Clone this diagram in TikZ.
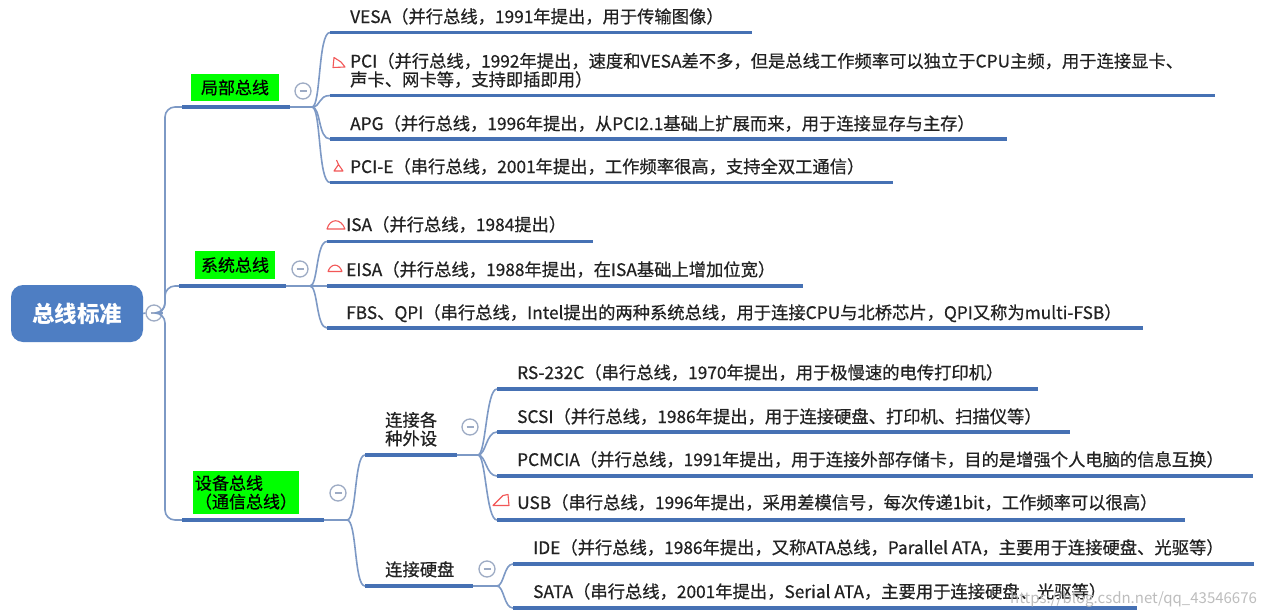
\documentclass[tikz,border=0pt]{standalone}
\usepackage{fontspec}
\setmainfont{Noto Sans CJK SC}
\newfontfamily\medfont{Noto Sans CJK SC}[FakeBold=0.6]
\usetikzlibrary{calc}
\definecolor{ul}{HTML}{4671B4}
\definecolor{cn}{HTML}{7D99C5}
\definecolor{tx}{HTML}{222222}
\definecolor{rootc}{HTML}{4E7EC3}
\definecolor{ring}{HTML}{9DABC4}
\definecolor{mark}{HTML}{F25757}
\definecolor{wm}{HTML}{BDBDBD}
\definecolor{lime}{HTML}{00FF00}
\tikzset{
  leaf/.style={anchor=base west, inner sep=0pt, font=\medfont\fontsize{17.3}{18.5}\selectfont, text=tx, align=left},
  greenbox/.style={fill=lime, inner sep=2pt, font=\medfont\fontsize{17}{18.5}\selectfont, text=black, align=left},
  conn/.style={draw=cn, line width=1.6pt},
  under/.style={draw=ul, line width=3.6pt},
  ringnode/.style={circle, draw=ring, line width=1.3pt, fill=white, minimum size=16pt, inner sep=0pt,
    path picture={\draw[ring, line width=1.2pt] ($(path picture bounding box.center)+(-3.5,0)$) -- ++(7,0);}},
  redmark/.style={draw=mark, line width=1.1pt, line join=round}
}
\begin{document}
\begin{tikzpicture}[x=1pt,y=-1pt]
\useasboundingbox[fill=white] (0,0) rectangle (1262,616);

% ---------- root ----------
\node[fill=rootc, rounded corners=12pt, minimum width=132pt, minimum height=57pt, text=white,
      font=\fontsize{22.5}{24}\selectfont\bfseries] (root) at (77,313.5) {总线标准};
\node[ringnode] (rc) at (154,313) {};
\coordinate (tr) at (165,313);

% ---------- branch coordinates ----------
\coordinate (b1s) at (182,107); \coordinate (b1e) at (290,107); \coordinate (f1) at (312,107);
\coordinate (b2s) at (179,286); \coordinate (b2e) at (286,286); \coordinate (f2) at (310,286);
\coordinate (b3s) at (182,520); \coordinate (b3e) at (324,520); \coordinate (f3) at (347,520);

\draw[conn] (root.east) -- (rc.west);
\draw[conn, rounded corners=10pt] (rc.east) -- (tr) |- (b1s);
\draw[conn, rounded corners=10pt] (rc.east) -- (tr) |- (b2s);
\draw[conn, rounded corners=10pt] (rc.east) -- (tr) |- (b3s);

\draw[under] (b1s) -- (b1e); \draw[conn] (b1e) -- (f1);
\draw[under] (b2s) -- (b2e); \draw[conn] (b2e) -- (f2);
\draw[under] (b3s) -- (b3e); \draw[conn] (b3e) -- (f3);

\node[greenbox, minimum width=88pt, minimum height=27pt] (g1) at (235,87.5) {局部总线};
\node[greenbox, minimum width=80pt, minimum height=28pt] (g2) at (235,265) {系统总线};
\node[greenbox, minimum width=106pt, minimum height=43pt] (g3) at (246,492.5) {设备总线\\（通信总线）};

\node[ringnode] (c1) at (303,91) {};
\node[ringnode] (c2) at (300,269) {};
\node[ringnode] (c3) at (338,493) {};

% ---------- local bus children ----------
\coordinate (vesaL) at (330,32.5);  \coordinate (vesaR) at (752,32.5);
\coordinate (pciL) at (330,95.5);   \coordinate (pciR) at (1215,95.5);
\coordinate (apgL) at (330,139);    \coordinate (apgR) at (1007,139);
\coordinate (pcieL) at (330,182.5); \coordinate (pcieR) at (893,182.5);
\foreach \n in {vesa,pci,apg,pcie}{
  \draw[conn] (f1) .. controls +(9,0) and +(-12,0) .. (\n L);
  \draw[under] (\n L) -- (\n R);
}
\node[leaf] (tvesa) at (350,23) {VESA（并行总线，1991年提出，用于传输图像）};
\node[leaf] (tpci) at (350,86) {PCI（并行总线，1992年提出，速度和VESA差不多，但是总线工作频率可以独立于CPU主频，用于连接显卡、\\声卡、网卡等，支持即插即用）};
\node[leaf] (tapg) at (350,130) {APG（并行总线，1996年提出，从PCI2.1基础上扩展而来，用于连接显存与主存）};
\node[leaf] (tpcie) at (350,173) {PCI-E（串行总线，2001年提出，工作频率很高，支持全双工通信）};

% ---------- system bus children ----------
\coordinate (isaL) at (327,241.5);  \coordinate (isaR) at (593,241.5);
\coordinate (eisaL) at (327,286);   \coordinate (eisaR) at (803,286);
\coordinate (fbsL) at (327,328);    \coordinate (fbsR) at (1143,328);
\foreach \n in {isa,eisa,fbs}{
  \draw[conn] (f2) .. controls +(8,0) and +(-11,0) .. (\n L);
  \draw[under] (\n L) -- (\n R);
}
\node[leaf] (tisa) at (346,231) {ISA（并行总线，1984提出）};
\node[leaf] (teisa) at (346,276) {EISA（并行总线，1988年提出，在ISA基础上增加位宽）};
\node[leaf] (tfbs) at (346,319) {FBS、QPI（串行总线，Intel提出的两种系统总线，用于连接CPU与北桥芯片，QPI又称为multi-FSB）};

% ---------- device bus ----------
\coordinate (extL) at (365,455); \coordinate (extE) at (457,455); \coordinate (fx) at (478,455);
\coordinate (hddL) at (365,586); \coordinate (hddE) at (473,586); \coordinate (fh) at (497,586);
\draw[conn] (f3) .. controls +(10,0) and +(-11,0) .. (extL);
\draw[conn] (f3) .. controls +(10,0) and +(-11,0) .. (hddL);
\draw[under] (extL) -- (extE); \draw[conn] (extE) -- (fx);
\draw[under] (hddL) -- (hddE); \draw[conn] (hddE) -- (fh);
\node[leaf] (text) at (385,445) {连接各\\种外设};
\node[leaf] (thdd) at (385,576) {连接硬盘};
\node[ringnode] (c4) at (470,427) {};
\node[ringnode] (c5) at (487,569) {};

\coordinate (rsL) at (497,389);     \coordinate (rsR) at (1038,389);
\coordinate (scsiL) at (497,432);   \coordinate (scsiR) at (1070,432);
\coordinate (pcmL) at (497,476);    \coordinate (pcmR) at (1253,476);
\coordinate (usbL) at (497,520);    \coordinate (usbR) at (1185,520);
\foreach \n in {rs,scsi,pcm,usb}{
  \draw[conn] (fx) .. controls +(8,0) and +(-11,0) .. (\n L);
  \draw[under] (\n L) -- (\n R);
}
\coordinate (ideL) at (513,564);    \coordinate (ideR) at (1254,564);
\coordinate (sataL) at (513,608);   \coordinate (sataR) at (1137,608);
\foreach \n in {ide,sata}{
  \draw[conn] (fh) .. controls +(7,0) and +(-9,0) .. (\n L);
  \draw[under] (\n L) -- (\n R);
}
\node[leaf] (trs) at (517,379) {RS-232C（串行总线，1970年提出，用于极慢速的电传打印机）};
\node[leaf] (tscsi) at (517,423) {SCSI（并行总线，1986年提出，用于连接硬盘、打印机、扫描仪等）};
\node[leaf] (tpcm) at (517,466) {PCMCIA（并行总线，1991年提出，用于连接外部存储卡，目的是增强个人电脑的信息互换）};
\node[leaf] (tusb) at (517,509) {USB（串行总线，1996年提出，采用差模信号，每次传递1bit，工作频率可以很高）};
\node[leaf] (tide) at (533,554) {IDE（并行总线，1986年提出，又称ATA总线，Parallel ATA，主要用于连接硬盘、光驱等）};
\node[leaf] (tsata) at (533,598) {SATA（串行总线，2001年提出，Serial ATA，主要用于连接硬盘、光驱等）};

% ---------- red hand marks ----------
\draw[redmark] (334,57.5) -- (333,67.5) -- (345,67) -- (341,62) -- cycle;
\draw[redmark] (334,171) -- (343,171) -- (338.5,164.5) -- cycle (338.5,164.5) -- (336.5,160);
\draw[redmark] (327,229) .. controls (330,218) and (341,218) .. (345,229) -- cycle;
\draw[redmark] (328,271.5) .. controls (331,263) and (339,263) .. (342,271.5) -- cycle;
\draw[redmark] (493,505.5) -- (503,495.5) -- (508,494.5) -- (509,505.5) -- cycle;

% ---------- watermark ----------
\node[anchor=base west, inner sep=0pt, text=wm, font=\fontsize{15}{16}\selectfont] (wmk) at (1010,603) {https://blog.csdn.net/qq\_43546676};
\end{tikzpicture}
\end{document}
